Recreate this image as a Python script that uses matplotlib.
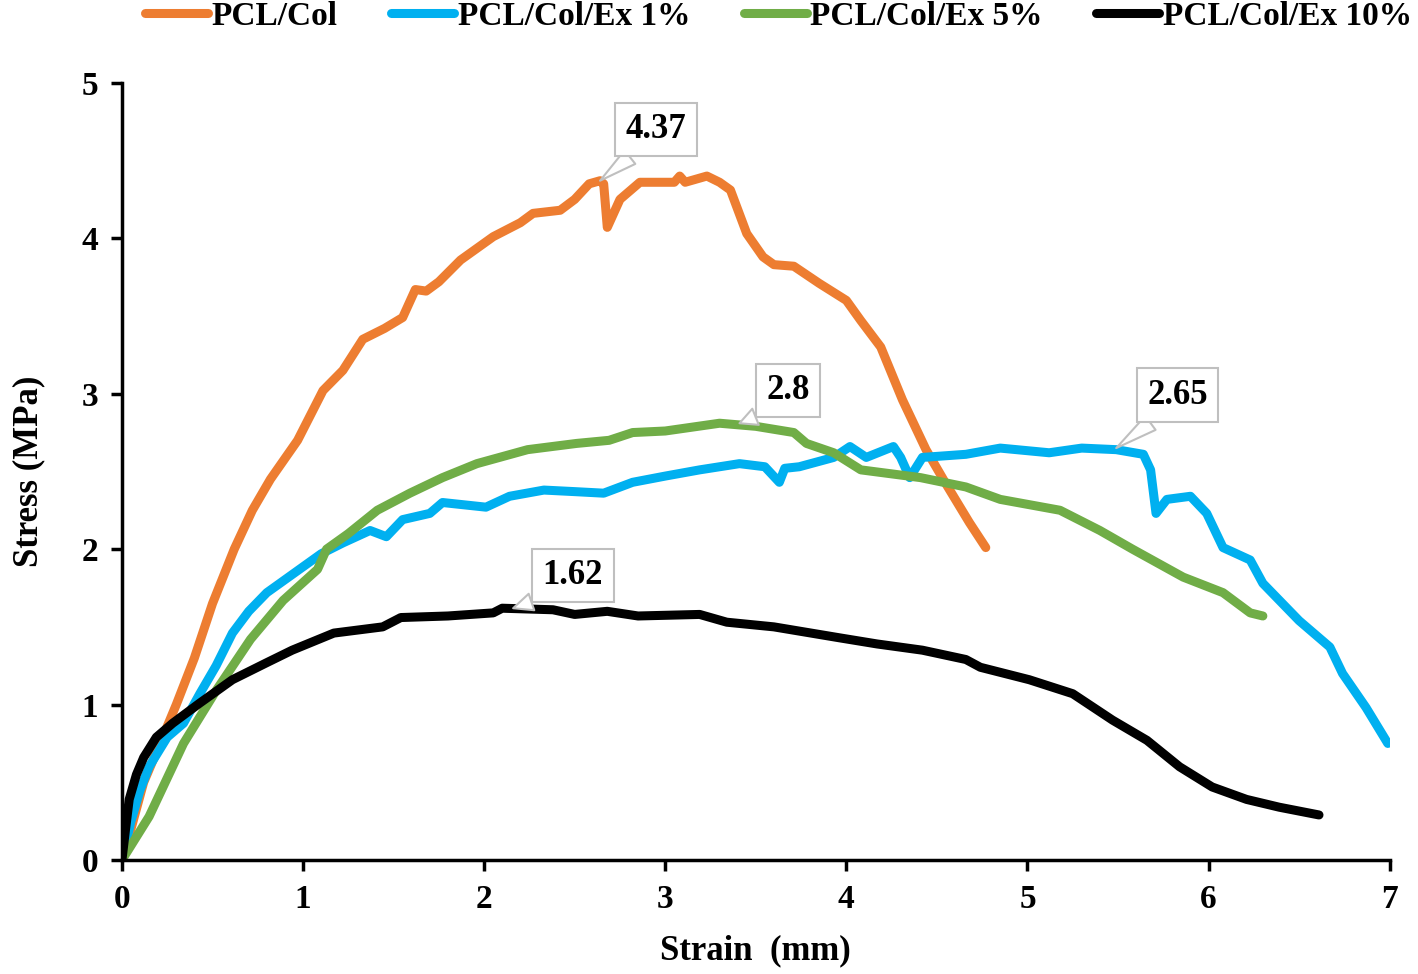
import matplotlib
matplotlib.use("Agg")
import matplotlib.pyplot as plt

plt.rcParams['font.family'] = ['Liberation Serif', 'DejaVu Serif']
plt.rcParams['font.weight'] = 'bold'

col_x = [0, 0.05, 0.12, 0.2, 0.3, 0.4, 0.5, 0.62, 0.72, 0.82, 0.97, 1.11, 1.22, 1.33, 1.45,
         1.55, 1.62, 1.68, 1.75, 1.87, 2.05, 2.2, 2.27, 2.42, 2.5, 2.58, 2.64, 2.66, 2.68,
         2.75, 2.86, 3.05, 3.08, 3.11, 3.23, 3.30, 3.36, 3.45, 3.54, 3.60, 3.71, 3.85, 4.00,
         4.08, 4.19, 4.31, 4.44, 4.55, 4.68, 4.77]
col_y = [0, 0.2, 0.5, 0.72, 1.0, 1.3, 1.65, 2.0, 2.25, 2.45, 2.7, 3.02, 3.15, 3.35, 3.42,
         3.49, 3.67, 3.66, 3.72, 3.86, 4.01, 4.10, 4.16, 4.18, 4.25, 4.35, 4.37, 4.35, 4.07,
         4.25, 4.36, 4.36, 4.40, 4.36, 4.40, 4.36, 4.31, 4.03, 3.88, 3.83, 3.82, 3.71, 3.60,
         3.47, 3.30, 2.96, 2.64, 2.42, 2.17, 2.01]

ex1_x = [0, 0.05, 0.1, 0.15, 0.25, 0.34, 0.43, 0.52, 0.61, 0.7, 0.8, 0.98, 1.1, 1.22, 1.37,
         1.46, 1.55, 1.7, 1.77, 2.01, 2.14, 2.33, 2.5, 2.66, 2.82, 3.0, 3.19, 3.41, 3.55, 3.63,
         3.66, 3.74, 3.93, 4.02, 4.11, 4.26, 4.3, 4.35, 4.42, 4.66, 4.85, 5.12, 5.3, 5.49, 5.64,
         5.68, 5.71, 5.77, 5.90, 5.99, 6.08, 6.23, 6.30, 6.50, 6.67, 6.74, 6.87, 6.99]
ex1_y = [0, 0.25, 0.45, 0.6, 0.79, 0.88, 1.07, 1.25, 1.46, 1.6, 1.72, 1.87, 1.97, 2.04, 2.12,
         2.08, 2.19, 2.23, 2.30, 2.27, 2.34, 2.38, 2.37, 2.36, 2.43, 2.47, 2.51, 2.55, 2.53, 2.43,
         2.52, 2.53, 2.59, 2.66, 2.59, 2.66, 2.59, 2.46, 2.59, 2.61, 2.65, 2.62, 2.65, 2.64, 2.61,
         2.51, 2.23, 2.32, 2.34, 2.23, 2.01, 1.93, 1.78, 1.54, 1.37, 1.20, 0.98, 0.75]

ex5_x = [0, 0.15, 0.34, 0.52, 0.71, 0.89, 1.08, 1.13, 1.25, 1.41, 1.59, 1.77, 1.96, 2.24,
         2.51, 2.69, 2.82, 3.0, 3.3, 3.5, 3.71, 3.78, 3.93, 4.08, 4.41, 4.66, 4.85, 5.18, 5.40,
         5.58, 5.86, 6.08, 6.23, 6.30]
ex5_y = [0, 0.28, 0.75, 1.09, 1.42, 1.67, 1.87, 2.0, 2.1, 2.25, 2.36, 2.46, 2.55, 2.64,
         2.68, 2.70, 2.75, 2.76, 2.81, 2.79, 2.75, 2.68, 2.62, 2.51, 2.46, 2.40, 2.32, 2.25, 2.12,
         2.0, 1.82, 1.72, 1.59, 1.57]

ex10_x = [0, 0.02, 0.04, 0.08, 0.12, 0.19, 0.28, 0.43, 0.61, 0.80, 0.94, 1.17, 1.44, 1.54,
          1.8, 2.05, 2.1, 2.38, 2.5, 2.68, 2.85, 3.19, 3.34, 3.60, 3.96, 4.17, 4.42, 4.66, 4.74,
          5.01, 5.25, 5.47, 5.66, 5.84, 6.02, 6.21, 6.39, 6.61]
ex10_y = [0, 0.2, 0.39, 0.55, 0.66, 0.79, 0.88, 1.01, 1.16, 1.27, 1.35, 1.46, 1.50, 1.56,
          1.57, 1.59, 1.62, 1.61, 1.58, 1.60, 1.57, 1.58, 1.53, 1.50, 1.43, 1.39, 1.35, 1.29, 1.24,
          1.16, 1.07, 0.90, 0.77, 0.60, 0.47, 0.39, 0.34, 0.29]

labels = ['PCL/Col', 'PCL/Col/Ex 1%', 'PCL/Col/Ex 5%', 'PCL/Col/Ex 10%']
colors = ['#ED7D31', '#00B0F0', '#70AD47', '#000000']

# peak callouts: text, peak point, box centre
peaks = ['4.37', '2.8', '2.65', '1.62']
peak_pts = [(2.64, 4.37), (3.41, 2.81), (5.49, 2.65), (2.16, 1.62)]
box_pts = [(2.95, 4.70), (3.68, 3.02), (5.83, 2.99), (2.49, 1.83)]

fig = plt.figure(figsize=(14.18, 9.74), dpi=100)
ax = fig.add_axes([0.086, 0.117, 0.894, 0.798])

curves = [(col_x, col_y), (ex1_x, ex1_y), (ex5_x, ex5_y), (ex10_x, ex10_y)]
for (xs, ys), lab, c in zip(curves, labels, colors):
    ax.plot(xs, ys, color=c, lw=6.5, label=lab, solid_capstyle='round',
            solid_joinstyle='round')

for txt, pt, bp in zip(peaks, peak_pts, box_pts):
    ax.annotate(txt, xy=pt, xytext=bp, ha='center', va='center',
                fontsize=25, fontweight='bold',
                bbox=dict(boxstyle='square,pad=0.3', fc='white', ec='#bfbfbf', lw=1.5),
                arrowprops=dict(arrowstyle='wedge,tail_width=0.5', fc='white',
                                ec='#bfbfbf', lw=1.5, relpos=(0.3, 0.0),
                                shrinkA=0, shrinkB=0))

ax.set_xlim(0, 7)
ax.set_ylim(0, 5)
ax.set_xticks(range(8))
ax.set_yticks(range(6))
for s in ['top', 'right']:
    ax.spines[s].set_visible(False)
for s in ['left', 'bottom']:
    ax.spines[s].set_linewidth(2.5)
ax.tick_params(direction='out', length=8, width=2.5, labelsize=24, pad=9)
for lbl in ax.get_xticklabels() + ax.get_yticklabels():
    lbl.set_fontweight('bold')

ax.set_xlabel('Strain  (mm)', fontsize=25, fontweight='bold', labelpad=14)
ax.set_ylabel('Stress (MPa)', fontsize=25, fontweight='bold', labelpad=26)

leg = fig.legend(loc='center', bbox_to_anchor=(0.549, 0.983), ncol=4, frameon=False,
                 handlelength=1.9, handletextpad=0.1, columnspacing=1.6,
                 prop={'weight': 'bold', 'size': 24})
for h in leg.get_lines():
    h.set_linewidth(6.5)

fig.savefig('out.png', dpi=100)
